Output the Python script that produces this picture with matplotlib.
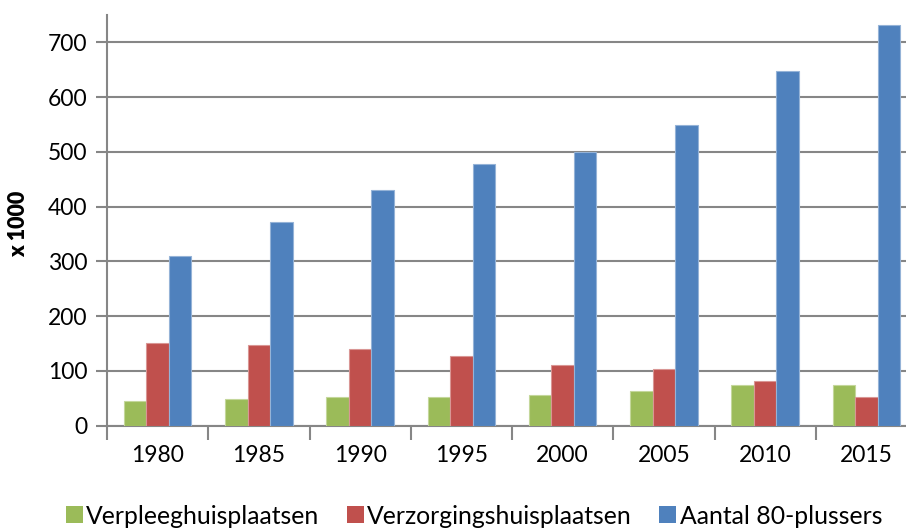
import matplotlib
matplotlib.use("Agg")
import matplotlib.pyplot as plt
from matplotlib.patches import Patch
import numpy as np

years = ["1980", "1985", "1990", "1995", "2000", "2005", "2010", "2015"]
verpleeg = [45, 49, 52, 53, 56, 64, 75, 75]
verzorging = [151, 147, 140, 128, 111, 103, 82, 53]
aantal80 = [310, 372, 430, 477, 499, 550, 648, 731]

series_names = ["Verpleeghuisplaatsen", "Verzorgingshuisplaatsen", "Aantal 80-plussers"]
colors = ["#9BBB59", "#C0504D", "#4F81BD"]
edgecols = ["#C4D79B", "#D99694", "#95B3D7"]

plt.rcParams['font.family'] = ['Lato', 'DejaVu Sans']
grid_col = "#868686"

fig = plt.figure(figsize=(9.06, 5.29), dpi=100)
ax = fig.add_axes([107/906, 1-425.7/529, 810/906, (425.7-15)/529])

x = np.arange(len(years))
w = 1/4.5
for i, (vals, c, ec) in enumerate(zip([verpleeg, verzorging, aantal80], colors, edgecols)):
    ax.bar(x + (i-1)*w, vals, width=w, color=c, edgecolor=ec, linewidth=0.8, zorder=3)

ax.set_xlim(-0.5, len(years)-0.5)
ax.set_ylim(0, 750)
ax.set_yticks(range(0, 800, 100))
ax.set_xticks(x)
ax.set_xticklabels(years)
ax.set_xticks(np.arange(len(years)+1) - 0.5, minor=True)
ax.tick_params(axis='x', which='major', length=0, labelsize=16.5, pad=14)
ax.tick_params(axis='x', which='minor', length=10, width=1.5, color=grid_col, direction='out')
ax.tick_params(axis='y', which='major', length=8, width=1.5, color=grid_col, labelsize=16.5, pad=6)
ax.yaxis.grid(True, color=grid_col, linewidth=1.5, zorder=0)
ax.set_axisbelow(True)
for s in ['top', 'right']:
    ax.spines[s].set_visible(False)
for s in ['left', 'bottom']:
    ax.spines[s].set_color(grid_col)
    ax.spines[s].set_linewidth(1.5)

fig.text(19/906, 1-224/529, "x 1000", rotation=90, fontsize=15.5, fontweight='heavy',
         ha='center', va='center')

handles = [Patch(facecolor=c, edgecolor='none') for c in colors]
fig.legend(handles, series_names, loc='center', bbox_to_anchor=(474/906, 1-516/529),
           ncol=3, frameon=False, fontsize=17.8, handlelength=0.68, handleheight=0.68,
           handletextpad=0.15, columnspacing=1.1, borderaxespad=0)

fig.savefig("out.png", dpi=100)
